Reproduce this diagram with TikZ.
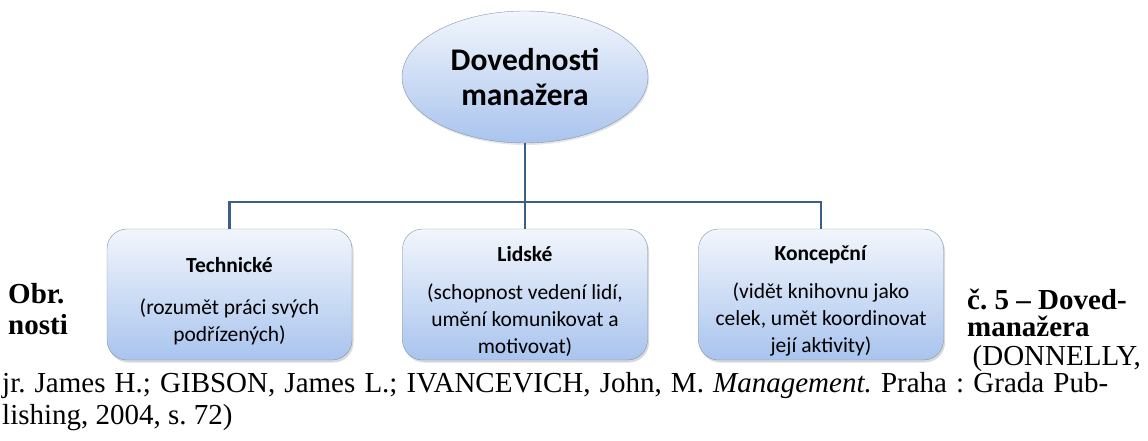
\documentclass[tikz,border=0pt]{standalone}
\usepackage{fontspec}
\setmainfont{Liberation Serif}
\newfontfamily\diagfont{Carlito}
\usetikzlibrary{shapes.geometric,shadows}
\definecolor{linkblue}{HTML}{3D5F87}
\definecolor{boxtop}{HTML}{F2F6FC}
\definecolor{boxbottom}{HTML}{A9C4EE}
\definecolor{boxedge}{HTML}{8394AE}
\newcommand{\titlestrut}{\rule{0pt}{28pt}}
\tikzset{%
    root/.style={
      ellipse,
      draw=boxedge,
      top color=boxtop,
      bottom color=boxbottom,
      drop shadow={opacity=0.2, shadow xshift=1pt, shadow yshift=-2pt},
      minimum width=246pt,
      minimum height=132pt,
      inner sep=0pt,
      text=black,
      font=\diagfont\bfseries\fontsize{31.5}{35}\selectfont,
      align=center
    },
    skill/.style={
      rectangle,
      rounded corners=20pt,
      draw=boxedge,
      top color=boxtop,
      bottom color=boxbottom,
      drop shadow={opacity=0.3, shadow xshift=1.5pt, shadow yshift=-2.5pt},
      minimum width=245pt,
      minimum height=131pt,
      inner sep=0pt,
      text=black,
      font=\diagfont\fontsize{21.5}{27}\selectfont,
      align=center
    },
    caption/.style={
      inner sep=0pt,
      font=\frenchspacing\fontsize{29}{32}\selectfont
    },
    link/.style={
      draw=linkblue,
      line width=2.5pt
    }
  }

\begin{document}
\begin{tikzpicture}[x=1pt, y=-1pt]
      \useasboundingbox (0,0) rectangle (1148,441);

      \node [root] (root) at (525,77) {Dovednosti\\manažera};

      \node [skill] (tech) at (229.5,294.5) {\titlestrut\textbf{Technické}\\[15pt](rozumět práci svých\\podřízených)};
      \node [skill] (lid) at (525,294.5) {\titlestrut\textbf{Lidské}\\[11pt](schopnost vedení lidí,\\umění komunikovat a\\motivovat)};
      \node [skill] (konc) at (821,294.5) {\titlestrut\textbf{Koncepční}\\[11pt](vidět knihovnu jako\\celek, umět koordinovat\\její aktivity)};

      \coordinate (bus) at (525,202);

      \draw [link] (root) -- (lid);
      \draw [link] (tech) |- (bus) -| (konc);

      \node [caption, anchor=base west] (obr) at (8,303) {\bfseries Obr.};
      \node [caption, anchor=base west] (nosti) at (8,334) {\bfseries nosti};
      \node [caption, anchor=base west] (cislo) at (967,309) {\bfseries č. 5 – Doved-};
      \node [caption, anchor=base west] (manaz) at (967,336) {\bfseries manažera};
      \node [caption, anchor=base east] (donn) at (1141,365) {(DONNELLY,};
      \node [caption, anchor=base west] (ref1) at (2,392) {\makebox[1106pt][s]{jr. James H.; GIBSON, James L.; IVANCEVICH, John, M. \textit{Management.} Praha : Grada Pub-}};
      \node [caption, anchor=base west] (ref2) at (2,424) {lishing, 2004, s. 72)};
\end{tikzpicture}
\end{document}
